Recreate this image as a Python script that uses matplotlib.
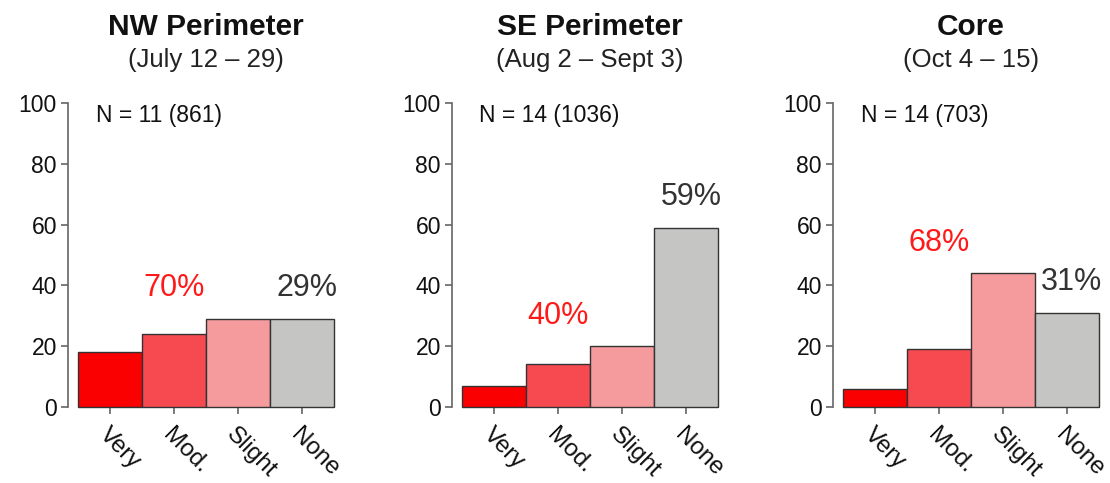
import matplotlib
matplotlib.use("Agg")
import matplotlib.pyplot as plt
from matplotlib.transforms import blended_transform_factory

plt.rcParams['font.family'] = ['Liberation Sans', 'DejaVu Sans']

regions = ["NW Perimeter", "SE Perimeter", "Core"]
dates = ["(July 12 \u2013 29)", "(Aug 2 \u2013 Sept 3)", "(Oct 4 \u2013 15)"]
n_labels = ["N = 11 (861)", "N = 14 (1036)", "N = 14 (703)"]
categories = ["Very", "Mod.", "Slight", "None"]
very = [18, 7, 6]
moderate = [24, 14, 19]
slight = [29, 20, 44]
none = [29, 59, 31]
pct_affected = [70, 40, 68]
pct_none = [29, 59, 31]
yticks = [0, 20, 40, 60, 80, 100]

bar_colors = ["#FA0000", "#F74A50", "#F69B9D", "#C5C6C4"]

fig = plt.figure(figsize=(11.1, 4.83), dpi=100)
lefts = [0.0613, 0.4072, 0.7505]
width = 0.2405
bottom = 1 - 407 / 483
height = (407 - 103) / 483

for i in range(3):
    ax = fig.add_axes([lefts[i], bottom, width, height])
    vals = [very[i], moderate[i], slight[i], none[i]]
    xs = [0.5, 1.5, 2.5, 3.5]
    bars = ax.bar(xs, vals, width=1.0, color=bar_colors, edgecolor="#333333",
                  linewidth=1.0, zorder=3)
    for b in bars:
        b.set_clip_on(False)
    ax.set_xlim(-0.16, 4.02)
    ax.set_ylim(0, 100)
    for s in ["top", "right", "bottom"]:
        ax.spines[s].set_visible(False)
    ax.spines["left"].set_color("#666666")
    ax.spines["left"].set_linewidth(1.2)
    ax.set_yticks(yticks)
    ax.set_yticklabels([str(t) for t in yticks], fontsize=16.5, color="#111111")
    ax.tick_params(axis="y", length=5, width=1.2, color="#666666", pad=3)
    ax.set_xticks(xs)
    ax.set_xticklabels(categories, rotation=-45, ha="left", va="top",
                       rotation_mode="anchor", fontsize=17.5, color="#111111")
    ax.tick_params(axis="x", length=5, width=1.2, color="#666666", pad=7)

    ax.text(0.27, 96, n_labels[i], fontsize=16.5, va="center", ha="left",
            color="#111111")
    red_top = max(vals[:3])
    ax.text(1.5, red_top + 10, f"{pct_affected[i]}%", fontsize=22,
            color="#FF1A1A", ha="center", va="center")
    ax.text(3.58, vals[3] + 10, f"{pct_none[i]}%", fontsize=22,
            color="#333333", ha="center", va="center")

    tr = blended_transform_factory(ax.transData, fig.transFigure)
    ax.text(2.0, 1 - 27 / 483, regions[i], transform=tr, fontsize=21.5,
            fontweight="bold", ha="center", va="center", color="#111111")
    ax.text(2.0, 1 - 60 / 483, dates[i], transform=tr, fontsize=18.5,
            ha="center", va="center", color="#222222")

fig.savefig("out.png", dpi=100)
